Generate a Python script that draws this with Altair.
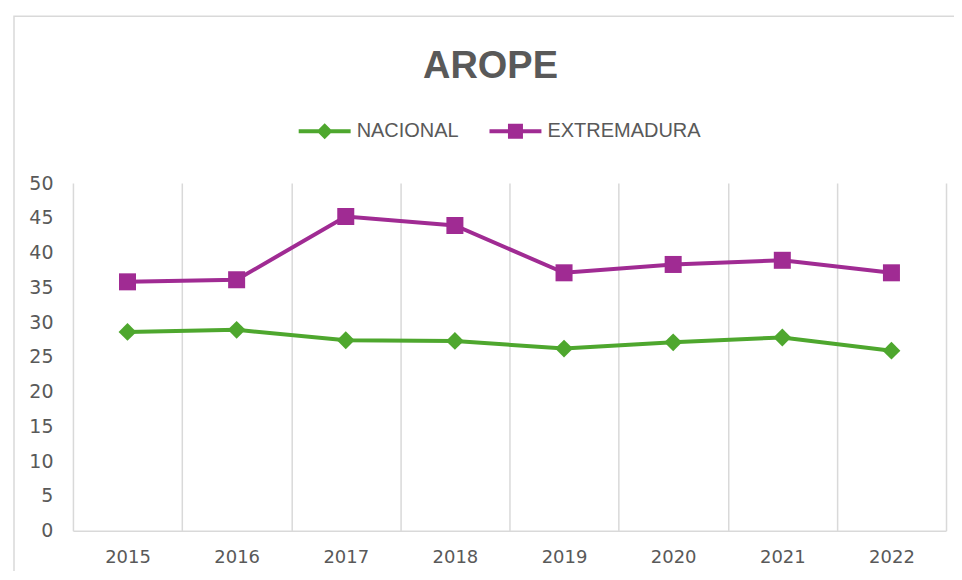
import altair as alt
import pandas as pd

years = ["2015", "2016", "2017", "2018", "2019", "2020", "2021", "2022"]
nacional = [28.6, 28.9, 27.4, 27.3, 26.2, 27.1, 27.8, 25.9]
extremadura = [35.8, 36.1, 45.2, 43.9, 37.1, 38.3, 38.9, 37.1]
series = ["NACIONAL", "EXTREMADURA"]
colors = ["#4EA72E", "#A02B93"]
marker_shapes = ["diamond", "square"]
marker_sizes = [320, 290]
y_ticks = [0, 5, 10, 15, 20, 25, 30, 35, 40, 45, 50]
chart_title = "AROPE"

# legend symbols: line segment with marker in the middle
legend_paths = [
    "M-2.6,-0.2H2.6V0.2H-2.6Z M0,-0.8L0.8,0L0,0.8L-0.8,0Z",
    "M-2.6,-0.2H2.6V0.2H-2.6Z M-0.75,-0.75H0.75V0.75H-0.75Z",
]

df = pd.DataFrame({
    "year": years * 2,
    "value": nacional + extremadura,
    "serie": [series[0]] * len(years) + [series[1]] * len(years),
})

FONT = "Liberation Sans"
NUMFONT = "DejaVu Sans"
GRAY = "#595959"
LIGHT = "#d9d9d9"

x_enc = alt.X(
    "year:O",
    sort=years,
    scale=alt.Scale(type="band", paddingInner=0, paddingOuter=0),
    axis=alt.Axis(
        title=None, labelAngle=0, tickBand="extent", grid=True, ticks=False,
        domain=True, domainColor=LIGHT, domainWidth=1.5,
        gridColor=LIGHT, gridWidth=1.5,
        labelPadding=18, labelFontSize=18, labelColor=GRAY, labelFont=NUMFONT,
    ),
)
y_enc = alt.Y(
    "value:Q",
    scale=alt.Scale(domain=[0, 50]),
    axis=alt.Axis(
        title=None, values=y_ticks, grid=False, domain=False, ticks=False,
        labelPadding=20, labelFontSize=19, labelColor=GRAY, labelFont=NUMFONT,
    ),
)

base = alt.Chart(df)
deco = alt.Chart(pd.DataFrame({"t": [chart_title]}))

border = deco.mark_rect(fillOpacity=0, stroke=LIGHT, strokeWidth=1.5).encode(
    x=alt.value(-59), x2=alt.value(1000), y=alt.value(-167), y2=alt.value(500)
)
title = deco.mark_text(
    font=FONT, fontSize=38, fontWeight="bold", color=GRAY, align="center", baseline="alphabetic"
).encode(x=alt.value(418), y=alt.value(-105), text="t:N")

layers = [border, title]
for s, c, shp, sz in zip(series, colors, marker_shapes, marker_sizes):
    sub = base.transform_filter(alt.datum.serie == s)
    layers.append(sub.mark_line(color=c, strokeWidth=4).encode(x=x_enc, y=y_enc))
    layers.append(
        sub.mark_point(shape=shp, filled=True, color=c, size=sz, opacity=1).encode(
            x=x_enc, y=y_enc
        )
    )

legend = alt.Legend(
    title=None, orient="none", legendX=242, legendY=-62, direction="horizontal",
    symbolSize=400, symbolStrokeWidth=0, labelFontSize=20, labelColor=GRAY,
    labelFont=FONT, labelOffset=22, columnPadding=30,
)
legend_layer = base.transform_filter("false").mark_point(filled=True, opacity=1).encode(
    x=x_enc,
    y=y_enc,
    color=alt.Color("serie:N", scale=alt.Scale(domain=series, range=colors), legend=legend),
    shape=alt.Shape("serie:N", scale=alt.Scale(domain=series, range=legend_paths), legend=legend),
)
layers.append(legend_layer)

chart = alt.layer(*layers).properties(
    width=874,
    height=348,
    autosize=alt.AutoSizeParams(type="none"),
    padding={"left": 65, "top": 175, "right": 8, "bottom": 40},
).configure_view(stroke=None)

chart.save("out.html", embed_options={"renderer": "svg", "actions": False})
